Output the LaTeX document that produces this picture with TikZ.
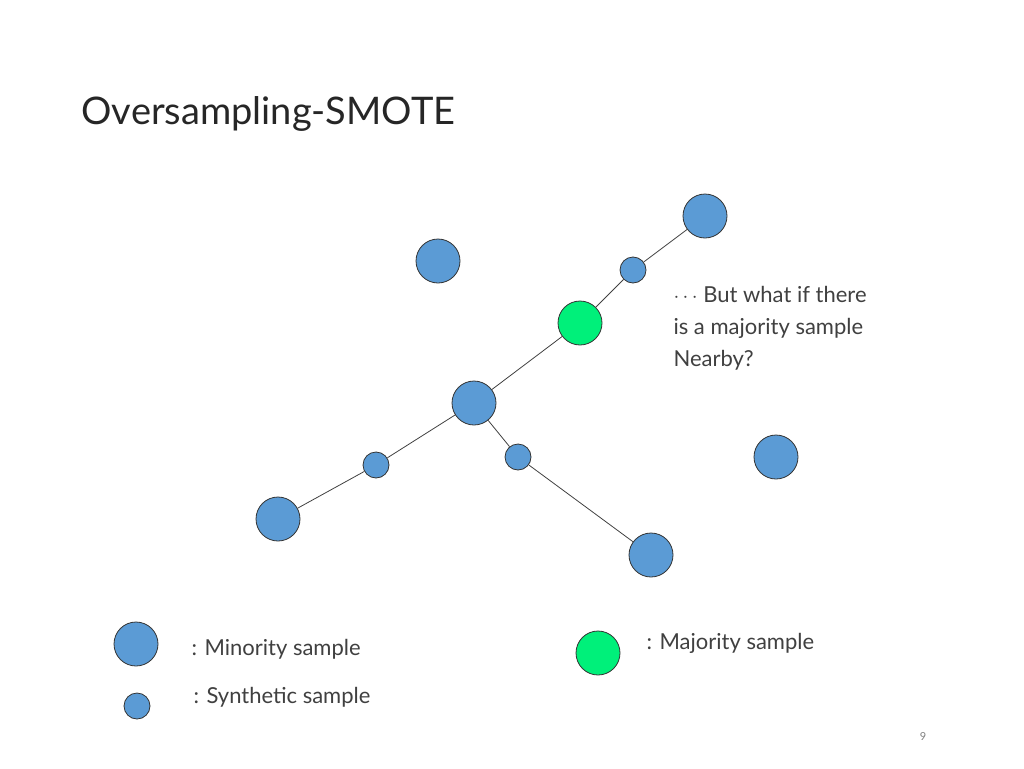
\documentclass[tikz,border=0pt]{standalone}
\usepackage{fontspec}
\setmainfont{Lato}
\begin{document}
\begin{tikzpicture}[x=1pt,y=-1pt,
  big/.style={circle,draw=black!80,fill=minblue,minimum size=44pt,inner sep=0pt,line width=0.8pt},
  small/.style={circle,draw=black!80,fill=minblue,minimum size=26pt,inner sep=0pt,line width=0.8pt},
  maj/.style={circle,draw=black!80,fill=majgreen,minimum size=44pt,inner sep=0pt,line width=0.8pt},
  link/.style={draw=black!75,line width=0.8pt},
  lbl/.style={font=\fontsize{22}{32}\selectfont,text=black!75,anchor=west,align=left}]
\definecolor{minblue}{HTML}{5B9BD5}
\definecolor{majgreen}{HTML}{00F07A}
\useasboundingbox (0,0) rectangle (1024,768);
\node[anchor=west,font=\fontsize{38}{40}\selectfont,text=black!85] (title) at (78,114) {Oversampling-SMOTE};
\node[big] (tr) at (705,216) {};
\node[small] (s1) at (633,270) {};
\node[maj] (g) at (580,323) {};
\node[big] (c) at (474,403) {};
\node[small] (s2) at (376,465) {};
\node[big] (bl) at (278,519) {};
\node[small] (s3) at (518,457) {};
\node[big] (br) at (651,555) {};
\node[big] (a) at (438,261) {};
\node[big] (r) at (776,457) {};
\draw[link] (c) -- (g); \draw[link] (g) -- (s1); \draw[link] (s1) -- (tr);
\draw[link] (c) -- (s2); \draw[link] (s2) -- (bl);
\draw[link] (c) -- (s3); \draw[link] (s3) -- (br);
\node[lbl] (q) at (670,328) {$\cdots$ But what if there\\is a majority sample\\Nearby?};
\node[big] (lm) at (136,644) {};
\node[lbl] (lmt) at (188,649) {: Minority sample};
\node[small] (ls) at (137,706) {};
\node[lbl] (lst) at (190,697) {: Synthetic sample};
\node[maj] (lg) at (598,653) {};
\node[lbl] (lgt) at (643,643) {: Majority sample};
\node[font=\fontsize{11}{12}\selectfont,text=black!50] (pg) at (923,737) {9};
\end{tikzpicture}
\end{document}
